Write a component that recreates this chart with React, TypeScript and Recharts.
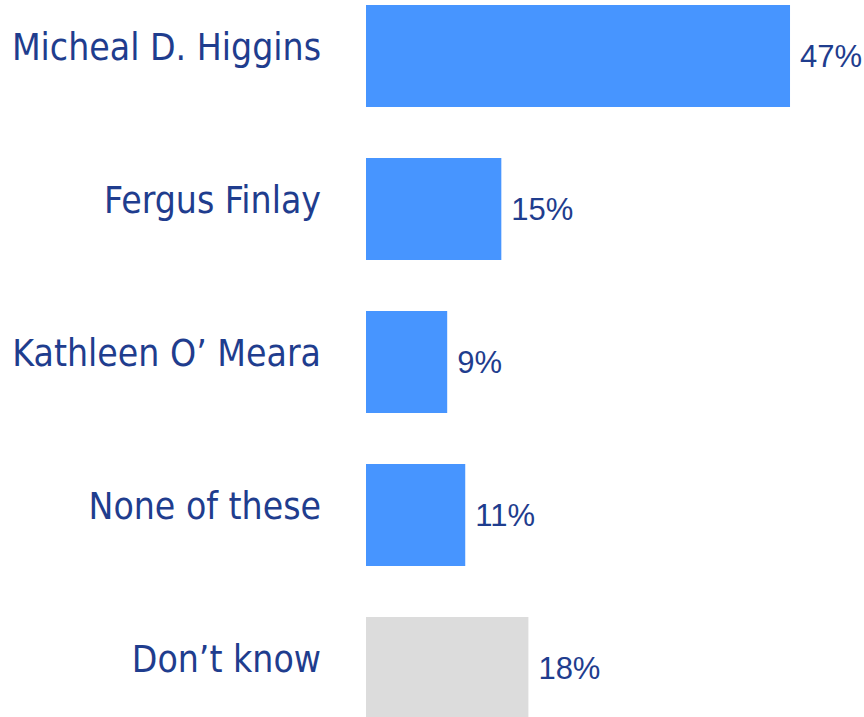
import React from "react";
import { BarChart, Bar, XAxis, YAxis, Cell, LabelList } from "recharts";

const categories = ["Micheal D. Higgins", "Fergus Finlay", "Kathleen O\u2019 Meara", "None of these", "Don\u2019t know"];
const values = [47, 15, 9, 11, 18];
const barColors = ["#4795FF", "#4795FF", "#4795FF", "#4795FF", "#DCDCDC"];

const data = categories.map((name, i) => ({ name, value: values[i] }));

const TEXT = "#1F3D8E";

const CategoryTick = (props: any) => {
  const { x, y, payload } = props;
  return (
    <text
      x={x}
      y={y}
      dy={4}
      textAnchor="end"
      fill={TEXT}
      fontSize={37}
      fontFamily="DejaVu Sans Condensed, DejaVu Sans"
    >
      {payload.value}
    </text>
  );
};

export default function App() {
  return (
    <div style={{ position: "absolute", top: 0, left: 0, width: 864, height: 717, overflow: "hidden" }}>
      <div style={{ marginTop: -21 }}>
        <BarChart
          width={864}
          height={765}
          data={data}
          layout="vertical"
          margin={{ top: 0, right: 0, bottom: 0, left: 0 }}
          barCategoryGap={0}
        >
          <XAxis type="number" domain={[0, 55.2]} hide />
          <YAxis
            type="category"
            dataKey="name"
            width={366}
            axisLine={false}
            tickLine={false}
            tickSize={0}
            tickMargin={45}
            tick={<CategoryTick />}
          />
          <Bar dataKey="value" barSize={102} isAnimationActive={false}>
            {data.map((d, i) => (
              <Cell key={d.name} fill={barColors[i]} />
            ))}
            <LabelList
              dataKey="value"
              position="right"
              offset={10}
              formatter={(v: number) => `${v}%`}
              style={{ fill: TEXT, fontSize: 31, fontFamily: "Liberation Sans, Arial, sans-serif" }}
            />
          </Bar>
        </BarChart>
      </div>
    </div>
  );
}
